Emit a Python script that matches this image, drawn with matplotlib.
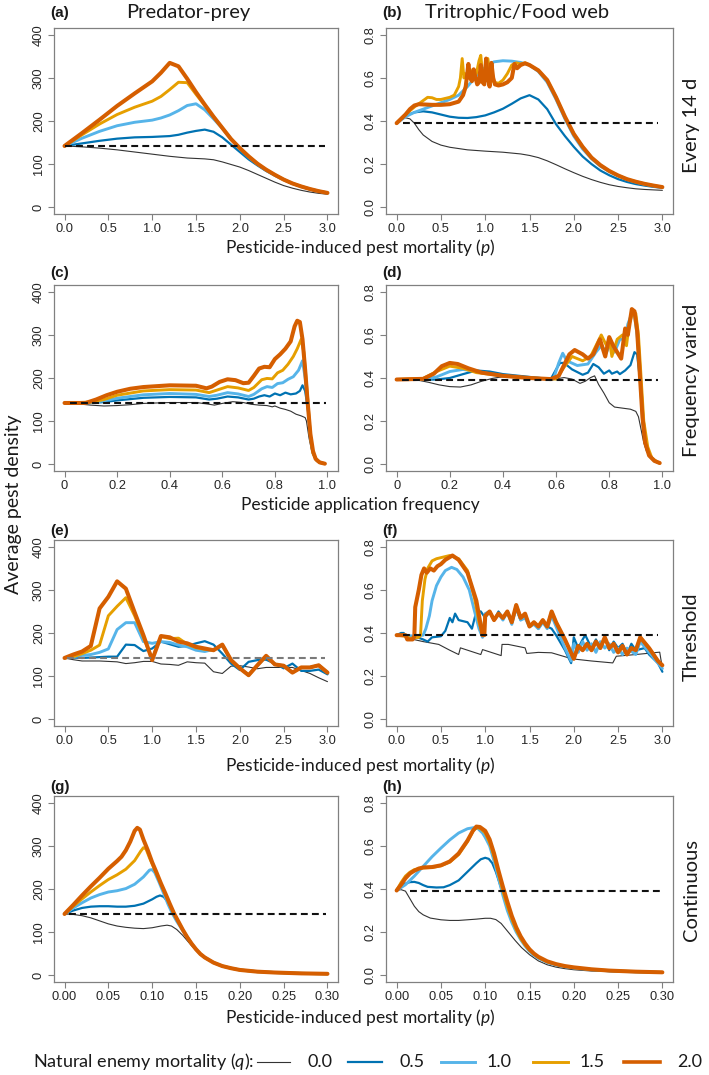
import numpy as np
import matplotlib.pyplot as plt
from matplotlib.lines import Line2D

plt.rcParams['font.family'] = ['Liberation Sans', 'DejaVu Sans']
plt.rcParams['mathtext.fontset'] = 'custom'
plt.rcParams['mathtext.it'] = 'Lato:italic'
plt.rcParams['mathtext.rm'] = 'Lato'

LABEL_FONT = ['Lato', 'DejaVu Sans']

# natural enemy mortality levels (q) and their line styles
q_levels = ['0.0', '0.5', '1.0', '1.5', '2.0']
q_colors = ['#333333', '#0072B2', '#56B4E9', '#E69F00', '#D55E00']
q_widths = [0.8, 1.6, 2.1, 2.1, 2.9]

# ---- (a) every 14 d, predator-prey : (p, density)
a_q00 = [(0, 142), (0.2, 140), (0.4, 137), (0.6, 133), (0.8, 128), (1.0, 123), (1.2, 118), (1.4, 114),
         (1.6, 112), (1.7, 110), (1.8, 105), (1.9, 99), (2.0, 93), (2.1, 85), (2.2, 76), (2.3, 67),
         (2.4, 58), (2.5, 50), (2.6, 44), (2.7, 39), (2.8, 35), (2.9, 32), (3.0, 30)]
a_q05 = [(0, 142), (0.2, 148), (0.4, 154), (0.6, 159), (0.8, 162), (1.0, 163), (1.2, 165), (1.3, 168),
         (1.4, 173), (1.5, 177), (1.6, 180), (1.7, 175), (1.8, 162), (1.9, 145), (2.0, 128), (2.1, 111),
         (2.2, 97), (2.3, 84), (2.4, 73), (2.5, 63), (2.6, 54), (2.7, 47), (2.8, 41), (2.9, 36), (3.0, 32)]
a_q10 = [(0, 142), (0.2, 160), (0.4, 176), (0.6, 189), (0.8, 197), (1.0, 202), (1.1, 207), (1.2, 214),
         (1.3, 224), (1.4, 236), (1.5, 240), (1.6, 226), (1.7, 205), (1.8, 183), (1.9, 158), (2.0, 136),
         (2.1, 116), (2.2, 100), (2.3, 86), (2.4, 74), (2.5, 64), (2.6, 55), (2.7, 48), (2.8, 42),
         (2.9, 37), (3.0, 33)]
a_q15 = [(0, 142), (0.2, 168), (0.4, 193), (0.6, 215), (0.8, 232), (1.0, 246), (1.1, 257), (1.2, 273),
         (1.3, 290), (1.4, 289), (1.5, 262), (1.6, 236), (1.7, 210), (1.8, 184), (1.9, 158), (2.0, 137),
         (2.1, 118), (2.2, 101), (2.3, 87), (2.4, 75), (2.5, 64), (2.6, 55), (2.7, 48), (2.8, 42),
         (2.9, 37), (3.0, 33)]
a_q20 = [(0, 142), (0.2, 172), (0.4, 203), (0.6, 235), (0.8, 264), (1.0, 292), (1.1, 312), (1.2, 335),
         (1.3, 327), (1.4, 298), (1.5, 267), (1.6, 238), (1.7, 210), (1.8, 184), (1.9, 158), (2.0, 137),
         (2.1, 118), (2.2, 101), (2.3, 87), (2.4, 75), (2.5, 64), (2.6, 55), (2.7, 48), (2.8, 42),
         (2.9, 37), (3.0, 33)]

# ---- (b) every 14 d, tritrophic
b_q00 = [(0, 0.39), (0.05, 0.405), (0.1, 0.415), (0.15, 0.41), (0.2, 0.39), (0.25, 0.36), (0.3, 0.335),
         (0.4, 0.305), (0.5, 0.288), (0.6, 0.278), (0.8, 0.266), (1.0, 0.26), (1.2, 0.255), (1.4, 0.247),
         (1.5, 0.24), (1.6, 0.23), (1.7, 0.215), (1.8, 0.197), (1.9, 0.178), (2.0, 0.16), (2.1, 0.143),
         (2.2, 0.128), (2.3, 0.115), (2.4, 0.104), (2.5, 0.096), (2.6, 0.09), (2.7, 0.085), (2.8, 0.082),
         (2.9, 0.08), (3.0, 0.078)]
b_q05 = [(0, 0.39), (0.1, 0.425), (0.2, 0.44), (0.3, 0.445), (0.4, 0.44), (0.5, 0.43), (0.6, 0.42),
         (0.7, 0.415), (0.8, 0.414), (0.9, 0.418), (1.0, 0.426), (1.1, 0.44), (1.2, 0.457), (1.3, 0.48),
         (1.4, 0.505), (1.5, 0.52), (1.6, 0.5), (1.7, 0.455), (1.8, 0.385), (1.9, 0.33), (2.0, 0.28),
         (2.1, 0.235), (2.2, 0.2), (2.3, 0.17), (2.4, 0.148), (2.5, 0.13), (2.6, 0.117), (2.7, 0.107),
         (2.8, 0.1), (2.9, 0.094), (3.0, 0.09)]
b_q10 = [(0, 0.39), (0.1, 0.42), (0.2, 0.44), (0.3, 0.455), (0.4, 0.47), (0.5, 0.485), (0.6, 0.5),
         (0.7, 0.52), (0.8, 0.56), (0.9, 0.61), (1.0, 0.65), (1.1, 0.675), (1.2, 0.68), (1.3, 0.678),
         (1.4, 0.672), (1.5, 0.66), (1.6, 0.63), (1.7, 0.58), (1.8, 0.5), (1.9, 0.41), (2.0, 0.33),
         (2.1, 0.27), (2.2, 0.225), (2.3, 0.19), (2.4, 0.165), (2.5, 0.145), (2.6, 0.128), (2.7, 0.116),
         (2.8, 0.106), (2.9, 0.098), (3.0, 0.092)]
b_q15 = [(0, 0.39), (0.1, 0.43), (0.2, 0.465), (0.3, 0.495), (0.35, 0.51), (0.4, 0.508), (0.45, 0.5),
         (0.5, 0.5), (0.6, 0.51), (0.65, 0.52), (0.7, 0.56), (0.72, 0.6), (0.74, 0.69), (0.76, 0.6),
         (0.78, 0.62), (0.8, 0.6), (0.83, 0.64), (0.86, 0.6), (0.9, 0.62), (0.93, 0.68), (0.95, 0.705),
         (0.97, 0.62), (1.0, 0.6), (1.03, 0.69), (1.06, 0.6), (1.1, 0.58), (1.15, 0.575), (1.2, 0.59),
         (1.25, 0.62), (1.3, 0.66), (1.35, 0.67), (1.4, 0.665), (1.45, 0.67), (1.5, 0.66), (1.6, 0.635),
         (1.7, 0.59), (1.8, 0.51), (1.9, 0.42), (2.0, 0.34), (2.1, 0.28), (2.2, 0.23), (2.3, 0.195),
         (2.4, 0.168), (2.5, 0.147), (2.6, 0.13), (2.7, 0.118), (2.8, 0.108), (2.9, 0.1), (3.0, 0.093)]
b_q20 = [(0, 0.39), (0.1, 0.43), (0.15, 0.455), (0.2, 0.472), (0.25, 0.478), (0.4, 0.475), (0.5, 0.475),
         (0.6, 0.478), (0.7, 0.49), (0.75, 0.52), (0.78, 0.56), (0.81, 0.665), (0.83, 0.6), (0.85, 0.585),
         (0.87, 0.64), (0.89, 0.6), (0.91, 0.57), (0.93, 0.58), (0.95, 0.66), (0.97, 0.58), (0.99, 0.57),
         (1.01, 0.69), (1.03, 0.6), (1.05, 0.56), (1.07, 0.67), (1.09, 0.6), (1.11, 0.57), (1.15, 0.565),
         (1.2, 0.57), (1.25, 0.58), (1.3, 0.6), (1.33, 0.665), (1.36, 0.645), (1.4, 0.66), (1.45, 0.668),
         (1.5, 0.66), (1.6, 0.635), (1.7, 0.59), (1.8, 0.51), (1.9, 0.42), (2.0, 0.34), (2.1, 0.28),
         (2.2, 0.23), (2.3, 0.195), (2.4, 0.168), (2.5, 0.147), (2.6, 0.13), (2.7, 0.118), (2.8, 0.108),
         (2.9, 0.1), (3.0, 0.093)]

# ---- (c) frequency varied, predator-prey : (frequency, density)
c_q00 = [(0, 142), (0.05, 140), (0.1, 137), (0.15, 135), (0.2, 136), (0.25, 138), (0.3, 141), (0.4, 143),
         (0.5, 143), (0.54, 140), (0.57, 137), (0.6, 141), (0.64, 145), (0.68, 143), (0.71, 139),
         (0.74, 137), (0.77, 136), (0.79, 133), (0.8, 135), (0.82, 130), (0.84, 127), (0.86, 123),
         (0.88, 116), (0.9, 112), (0.915, 108), (0.92, 100), (0.93, 60), (0.94, 30), (0.95, 15),
         (0.96, 7), (0.975, 3), (0.99, 1)]
c_q05 = [(0, 142), (0.1, 142), (0.15, 144), (0.2, 148), (0.3, 154), (0.4, 156), (0.5, 155), (0.55, 150),
         (0.58, 152), (0.62, 157), (0.66, 155), (0.7, 150), (0.72, 152), (0.74, 157), (0.76, 160),
         (0.78, 157), (0.8, 164), (0.82, 160), (0.84, 166), (0.86, 162), (0.88, 164), (0.895, 170),
         (0.905, 183), (0.915, 170), (0.925, 130), (0.935, 60), (0.945, 25), (0.96, 8), (0.975, 3),
         (0.99, 1)]
c_q10 = [(0, 142), (0.1, 143), (0.15, 147), (0.2, 153), (0.3, 161), (0.4, 164), (0.5, 162), (0.55, 157),
         (0.58, 160), (0.62, 166), (0.66, 163), (0.7, 157), (0.72, 162), (0.75, 175), (0.77, 180),
         (0.79, 178), (0.81, 187), (0.83, 189), (0.85, 197), (0.87, 203), (0.89, 218), (0.905, 240),
         (0.915, 200), (0.925, 140), (0.935, 65), (0.945, 25), (0.96, 8), (0.975, 3), (0.99, 1)]
c_q15 = [(0, 142), (0.1, 144), (0.15, 150), (0.2, 160), (0.3, 170), (0.4, 173), (0.5, 172), (0.55, 166),
         (0.58, 172), (0.62, 180), (0.66, 177), (0.7, 171), (0.72, 178), (0.75, 196), (0.77, 199),
         (0.79, 198), (0.81, 212), (0.83, 218), (0.85, 232), (0.87, 250), (0.885, 268), (0.9, 290),
         (0.91, 260), (0.925, 150), (0.935, 65), (0.945, 25), (0.96, 8), (0.975, 3), (0.99, 1)]
c_q20 = [(0, 142), (0.08, 142), (0.12, 150), (0.16, 160), (0.2, 168), (0.25, 175), (0.3, 179), (0.4, 183),
         (0.5, 182), (0.54, 176), (0.56, 180), (0.59, 191), (0.62, 197), (0.65, 195), (0.68, 188),
         (0.7, 189), (0.72, 205), (0.74, 222), (0.76, 226), (0.78, 225), (0.8, 244), (0.82, 255),
         (0.84, 268), (0.86, 285), (0.875, 320), (0.885, 333), (0.895, 330), (0.905, 290), (0.915, 220),
         (0.925, 140), (0.935, 70), (0.945, 30), (0.955, 12), (0.97, 4), (0.99, 1)]

# ---- (d) frequency varied, tritrophic
d_q00 = [(0, 0.393), (0.08, 0.39), (0.12, 0.38), (0.16, 0.368), (0.2, 0.36), (0.24, 0.358), (0.28, 0.368),
         (0.32, 0.385), (0.36, 0.398), (0.4, 0.406), (0.45, 0.41), (0.5, 0.405), (0.55, 0.398),
         (0.6, 0.396), (0.63, 0.402), (0.66, 0.395), (0.69, 0.375), (0.71, 0.385), (0.73, 0.402),
         (0.745, 0.41), (0.76, 0.37), (0.78, 0.33), (0.8, 0.285), (0.82, 0.265), (0.85, 0.26),
         (0.88, 0.255), (0.9, 0.245), (0.91, 0.22), (0.92, 0.16), (0.93, 0.1), (0.94, 0.06),
         (0.96, 0.025), (0.98, 0.01), (0.99, 0.005)]
d_q05 = [(0, 0.393), (0.1, 0.392), (0.15, 0.393), (0.2, 0.4), (0.25, 0.418), (0.3, 0.435), (0.35, 0.43),
         (0.4, 0.418), (0.5, 0.405), (0.58, 0.395), (0.6, 0.44), (0.615, 0.47), (0.63, 0.47), (0.66, 0.44),
         (0.7, 0.415), (0.72, 0.425), (0.74, 0.465), (0.76, 0.45), (0.78, 0.42), (0.8, 0.435), (0.81, 0.42),
         (0.83, 0.43), (0.84, 0.418), (0.86, 0.435), (0.88, 0.46), (0.895, 0.52), (0.905, 0.51),
         (0.915, 0.4), (0.925, 0.2), (0.935, 0.1), (0.95, 0.04), (0.97, 0.015), (0.99, 0.005)]
d_q10 = [(0, 0.393), (0.1, 0.393), (0.15, 0.405), (0.2, 0.43), (0.25, 0.44), (0.3, 0.43), (0.35, 0.42),
         (0.4, 0.41), (0.5, 0.4), (0.59, 0.395), (0.61, 0.47), (0.625, 0.515), (0.64, 0.48), (0.68, 0.458),
         (0.72, 0.465), (0.75, 0.52), (0.77, 0.55), (0.79, 0.52), (0.8, 0.55), (0.82, 0.52), (0.84, 0.58),
         (0.86, 0.58), (0.87, 0.65), (0.885, 0.7), (0.895, 0.69), (0.905, 0.6), (0.915, 0.45),
         (0.925, 0.25), (0.935, 0.12), (0.95, 0.04), (0.97, 0.015), (0.99, 0.005)]
d_q15 = [(0, 0.393), (0.1, 0.398), (0.15, 0.43), (0.2, 0.455), (0.25, 0.445), (0.3, 0.425), (0.4, 0.41),
         (0.5, 0.4), (0.6, 0.395), (0.63, 0.45), (0.66, 0.5), (0.7, 0.48), (0.73, 0.5), (0.77, 0.6),
         (0.79, 0.55), (0.8, 0.58), (0.81, 0.5), (0.83, 0.58), (0.85, 0.6), (0.865, 0.55), (0.875, 0.65),
         (0.89, 0.71), (0.9, 0.7), (0.91, 0.6), (0.92, 0.4), (0.93, 0.2), (0.945, 0.08), (0.96, 0.03),
         (0.98, 0.01), (0.99, 0.005)]
d_q20 = [(0, 0.393), (0.1, 0.396), (0.14, 0.42), (0.17, 0.455), (0.2, 0.47), (0.23, 0.465), (0.27, 0.445),
         (0.32, 0.425), (0.4, 0.41), (0.5, 0.4), (0.58, 0.395), (0.61, 0.41), (0.63, 0.46), (0.65, 0.51),
         (0.67, 0.53), (0.7, 0.51), (0.72, 0.49), (0.74, 0.51), (0.765, 0.58), (0.785, 0.5), (0.8, 0.59),
         (0.815, 0.55), (0.83, 0.52), (0.845, 0.49), (0.86, 0.63), (0.87, 0.6), (0.885, 0.72),
         (0.895, 0.71), (0.905, 0.62), (0.915, 0.42), (0.925, 0.22), (0.935, 0.1), (0.95, 0.04),
         (0.97, 0.015), (0.99, 0.005)]

# ---- (e) threshold, predator-prey (p steps of 0.1)
e_p = [0.0, 0.1, 0.2, 0.3, 0.4, 0.5, 0.6, 0.7, 0.8, 0.9, 1.0, 1.1, 1.2, 1.3, 1.4, 1.5,
       1.6, 1.7, 1.8, 1.9, 2.0, 2.1, 2.2, 2.3, 2.4, 2.5, 2.6, 2.7, 2.8, 2.9, 3.0]
e_q00 = [142, 138, 135, 135, 135, 134, 133, 129, 131, 134, 134, 128, 127, 125, 133, 131,
         130, 110, 106, 123, 124, 121, 117, 120, 120, 120, 120, 113, 106, 96, 87]
e_q05 = [142, 143, 142, 143, 144, 145, 145, 173, 172, 158, 164, 180, 174, 168, 170, 176,
         181, 173, 152, 129, 114, 133, 137, 138, 129, 118, 129, 112, 112, 115, 104]
e_q10 = [142, 145, 148, 150, 155, 163, 208, 224, 224, 180, 176, 180, 178, 172, 168, 160,
         157, 162, 170, 137, 118, 102, 125, 145, 127, 124, 108, 120, 120, 125, 108]
e_q15 = [142, 145, 152, 160, 172, 240, 262, 282, 240, 190, 140, 192, 187, 188, 174, 166,
         162, 160, 173, 137, 118, 102, 125, 147, 127, 124, 108, 120, 120, 125, 108]
e_q20 = [142, 150, 157, 170, 257, 284, 320, 303, 248, 195, 137, 193, 190, 180, 176, 168,
         164, 160, 173, 137, 118, 102, 125, 147, 127, 124, 108, 120, 120, 125, 108]

# ---- (f) threshold, tritrophic
f_q00 = [(0, 0.39), (0.1, 0.386), (0.19, 0.37), (0.3, 0.36), (0.475, 0.347), (0.6, 0.32), (0.7, 0.3),
         (0.72, 0.331), (0.95, 0.3), (0.97, 0.323), (1.18, 0.295), (1.19, 0.347), (1.26, 0.347),
         (1.45, 0.331), (1.47, 0.305), (1.6, 0.31), (1.75, 0.308), (1.98, 0.28), (2.2, 0.27),
         (2.44, 0.261), (2.48, 0.292), (2.7, 0.3), (2.97, 0.311), (2.99, 0.261)]
f_q05 = [(0, 0.39), (0.05, 0.4), (0.08, 0.4), (0.1, 0.385), (0.2, 0.385), (0.3, 0.37), (0.35, 0.36),
         (0.4, 0.38), (0.5, 0.385), (0.55, 0.41), (0.6, 0.47), (0.63, 0.45), (0.66, 0.49), (0.7, 0.46),
         (0.8, 0.45), (0.85, 0.42), (0.9, 0.5), (0.95, 0.5), (1.0, 0.47), (1.05, 0.5), (1.1, 0.46),
         (1.15, 0.5), (1.2, 0.47), (1.25, 0.49), (1.3, 0.45), (1.35, 0.51), (1.4, 0.46), (1.45, 0.48),
         (1.5, 0.43), (1.55, 0.45), (1.6, 0.42), (1.65, 0.45), (1.7, 0.43), (1.75, 0.42), (1.8, 0.39),
         (1.9, 0.32), (1.97, 0.26), (2.0, 0.38), (2.05, 0.33), (2.1, 0.37), (2.13, 0.39), (2.2, 0.33),
         (2.25, 0.37), (2.3, 0.33), (2.35, 0.38), (2.4, 0.32), (2.45, 0.36), (2.5, 0.33), (2.55, 0.35),
         (2.6, 0.3), (2.65, 0.35), (2.7, 0.32), (2.8, 0.33), (2.85, 0.3), (2.95, 0.26), (3.0, 0.22)]
f_q10 = [(0, 0.39), (0.1, 0.39), (0.2, 0.385), (0.3, 0.39), (0.33, 0.42), (0.37, 0.48), (0.4, 0.55),
         (0.45, 0.62), (0.5, 0.66), (0.55, 0.69), (0.62, 0.705), (0.68, 0.695), (0.75, 0.66), (0.82, 0.6),
         (0.88, 0.5), (0.93, 0.42), (0.97, 0.38), (1.0, 0.49), (1.05, 0.5), (1.1, 0.46), (1.15, 0.49),
         (1.2, 0.46), (1.25, 0.5), (1.3, 0.44), (1.35, 0.52), (1.4, 0.46), (1.45, 0.47), (1.5, 0.43),
         (1.55, 0.44), (1.6, 0.42), (1.65, 0.45), (1.7, 0.42), (1.75, 0.48), (1.8, 0.43), (1.9, 0.33),
         (1.97, 0.27), (2.0, 0.35), (2.05, 0.31), (2.1, 0.36), (2.15, 0.32), (2.2, 0.35), (2.25, 0.31),
         (2.3, 0.36), (2.35, 0.33), (2.4, 0.35), (2.45, 0.31), (2.5, 0.33), (2.55, 0.3), (2.6, 0.33),
         (2.7, 0.3), (2.75, 0.36), (2.85, 0.31), (2.95, 0.26), (3.0, 0.235)]
f_q15 = [(0, 0.39), (0.1, 0.385), (0.15, 0.375), (0.25, 0.38), (0.27, 0.39), (0.29, 0.55), (0.32, 0.65),
         (0.35, 0.7), (0.4, 0.735), (0.45, 0.745), (0.5, 0.75), (0.6, 0.76), (0.7, 0.745), (0.8, 0.69),
         (0.88, 0.56), (0.93, 0.45), (0.97, 0.39), (1.0, 0.48), (1.05, 0.5), (1.1, 0.46), (1.15, 0.49),
         (1.2, 0.47), (1.25, 0.5), (1.3, 0.45), (1.35, 0.53), (1.4, 0.47), (1.45, 0.49), (1.5, 0.43),
         (1.55, 0.45), (1.6, 0.43), (1.65, 0.46), (1.7, 0.43), (1.75, 0.5), (1.8, 0.45), (1.9, 0.37),
         (2.0, 0.28), (2.05, 0.34), (2.1, 0.32), (2.15, 0.35), (2.2, 0.32), (2.25, 0.36), (2.3, 0.33),
         (2.35, 0.38), (2.4, 0.33), (2.45, 0.35), (2.5, 0.31), (2.55, 0.34), (2.6, 0.3), (2.65, 0.33),
         (2.7, 0.32), (2.75, 0.38), (2.85, 0.33), (2.95, 0.27), (3.0, 0.25)]
f_q20 = [(0, 0.39), (0.1, 0.39), (0.12, 0.37), (0.18, 0.37), (0.2, 0.385), (0.21, 0.52), (0.25, 0.6),
         (0.28, 0.67), (0.31, 0.7), (0.34, 0.68), (0.38, 0.7), (0.42, 0.69), (0.46, 0.71), (0.5, 0.72),
         (0.55, 0.74), (0.63, 0.76), (0.7, 0.74), (0.8, 0.68), (0.9, 0.55), (0.97, 0.39), (0.99, 0.39),
         (1.0, 0.48), (1.05, 0.5), (1.1, 0.46), (1.15, 0.49), (1.2, 0.47), (1.25, 0.5), (1.3, 0.45),
         (1.35, 0.53), (1.4, 0.47), (1.45, 0.49), (1.5, 0.43), (1.55, 0.45), (1.6, 0.43), (1.65, 0.46),
         (1.7, 0.43), (1.75, 0.5), (1.8, 0.45), (1.9, 0.37), (2.0, 0.28), (2.05, 0.34), (2.1, 0.32),
         (2.15, 0.35), (2.2, 0.32), (2.25, 0.36), (2.3, 0.33), (2.35, 0.38), (2.4, 0.33), (2.45, 0.35),
         (2.5, 0.31), (2.55, 0.34), (2.6, 0.3), (2.65, 0.33), (2.7, 0.32), (2.75, 0.38), (2.85, 0.33),
         (2.95, 0.27), (3.0, 0.25)]

# ---- (g) continuous, predator-prey
g_q00 = [(0, 142), (0.01, 141), (0.02, 138), (0.03, 133), (0.04, 126), (0.05, 119), (0.06, 114),
         (0.07, 111), (0.08, 109), (0.09, 108), (0.1, 110), (0.11, 114), (0.117, 116), (0.122, 114),
         (0.128, 106), (0.135, 92), (0.14, 80), (0.145, 68), (0.15, 57), (0.155, 47), (0.16, 39),
         (0.17, 28), (0.18, 20), (0.19, 15), (0.2, 11), (0.22, 7), (0.24, 5), (0.27, 4), (0.3, 3)]
g_q05 = [(0, 142), (0.01, 150), (0.02, 156), (0.03, 159), (0.04, 160), (0.05, 160), (0.06, 159),
         (0.07, 159), (0.08, 161), (0.09, 166), (0.1, 176), (0.105, 182), (0.109, 185), (0.113, 182),
         (0.118, 170), (0.123, 150), (0.128, 128), (0.135, 105), (0.14, 88), (0.145, 72), (0.15, 60),
         (0.155, 49), (0.16, 41), (0.17, 29), (0.18, 21), (0.19, 16), (0.2, 12), (0.22, 8), (0.24, 6),
         (0.27, 4), (0.3, 3)]
g_q10 = [(0, 142), (0.01, 156), (0.02, 168), (0.03, 179), (0.04, 187), (0.05, 193), (0.06, 196),
         (0.07, 201), (0.08, 211), (0.09, 228), (0.097, 244), (0.1, 245), (0.103, 238), (0.108, 215),
         (0.113, 190), (0.118, 165), (0.123, 143), (0.128, 125), (0.135, 103), (0.14, 88), (0.145, 73),
         (0.15, 60), (0.155, 49), (0.16, 41), (0.17, 29), (0.18, 21), (0.19, 16), (0.2, 12), (0.22, 8),
         (0.24, 6), (0.27, 4), (0.3, 3)]
g_q15 = [(0, 142), (0.01, 160), (0.02, 177), (0.03, 193), (0.04, 208), (0.05, 222), (0.06, 233),
         (0.07, 246), (0.08, 266), (0.087, 288), (0.09, 296), (0.093, 293), (0.097, 272), (0.1, 258),
         (0.105, 235), (0.11, 212), (0.115, 188), (0.12, 164), (0.125, 143), (0.13, 124), (0.135, 105),
         (0.14, 88), (0.145, 73), (0.15, 60), (0.155, 49), (0.16, 41), (0.17, 29), (0.18, 21), (0.19, 16),
         (0.2, 12), (0.22, 8), (0.24, 6), (0.27, 4), (0.3, 3)]
g_q20 = [(0, 142), (0.01, 163), (0.02, 185), (0.03, 206), (0.04, 226), (0.05, 247), (0.06, 265),
         (0.065, 275), (0.07, 290), (0.075, 310), (0.08, 335), (0.083, 342), (0.086, 338), (0.09, 315),
         (0.095, 290), (0.1, 262), (0.105, 238), (0.11, 213), (0.115, 190), (0.12, 166), (0.125, 143),
         (0.13, 124), (0.135, 105), (0.14, 88), (0.145, 73), (0.15, 60), (0.155, 49), (0.16, 41),
         (0.17, 29), (0.18, 21), (0.19, 16), (0.2, 12), (0.22, 8), (0.24, 6), (0.27, 4), (0.3, 3)]

# ---- (h) continuous, tritrophic
h_q00 = [(0, 0.393), (0.005, 0.397), (0.01, 0.39), (0.015, 0.355), (0.02, 0.32), (0.025, 0.295),
         (0.03, 0.28), (0.038, 0.265), (0.05, 0.257), (0.06, 0.254), (0.07, 0.254), (0.08, 0.257),
         (0.09, 0.26), (0.1, 0.264), (0.106, 0.264), (0.112, 0.258), (0.118, 0.24), (0.126, 0.2),
         (0.134, 0.16), (0.141, 0.128), (0.15, 0.095), (0.16, 0.066), (0.17, 0.048), (0.18, 0.037),
         (0.19, 0.03), (0.2, 0.025), (0.22, 0.019), (0.25, 0.015), (0.3, 0.012)]
h_q05 = [(0, 0.393), (0.005, 0.41), (0.01, 0.425), (0.015, 0.432), (0.02, 0.433), (0.025, 0.428),
         (0.03, 0.418), (0.035, 0.41), (0.045, 0.407), (0.053, 0.408), (0.06, 0.418), (0.07, 0.44),
         (0.08, 0.48), (0.09, 0.52), (0.095, 0.538), (0.1, 0.545), (0.104, 0.54), (0.108, 0.52),
         (0.112, 0.48), (0.116, 0.43), (0.12, 0.38), (0.125, 0.31), (0.13, 0.26), (0.135, 0.215),
         (0.14, 0.175), (0.145, 0.14), (0.15, 0.115), (0.155, 0.095), (0.16, 0.08), (0.17, 0.06),
         (0.18, 0.047), (0.19, 0.038), (0.2, 0.032), (0.22, 0.024), (0.24, 0.019), (0.27, 0.015),
         (0.3, 0.012)]
h_q10 = [(0, 0.393), (0.01, 0.42), (0.02, 0.46), (0.03, 0.505), (0.04, 0.55), (0.05, 0.59),
         (0.06, 0.628), (0.07, 0.66), (0.08, 0.68), (0.087, 0.685), (0.092, 0.68), (0.097, 0.66),
         (0.1, 0.64), (0.105, 0.6), (0.11, 0.53), (0.115, 0.45), (0.12, 0.37), (0.125, 0.3), (0.13, 0.245),
         (0.135, 0.2), (0.14, 0.165), (0.145, 0.135), (0.15, 0.11), (0.155, 0.092), (0.16, 0.078),
         (0.17, 0.059), (0.18, 0.047), (0.19, 0.039), (0.2, 0.033), (0.22, 0.025), (0.24, 0.02),
         (0.27, 0.015), (0.3, 0.012)]
h_q15 = [(0, 0.393), (0.005, 0.43), (0.01, 0.46), (0.015, 0.478), (0.02, 0.49), (0.03, 0.498),
         (0.04, 0.5), (0.05, 0.508), (0.06, 0.525), (0.07, 0.56), (0.08, 0.62), (0.087, 0.675),
         (0.091, 0.685), (0.095, 0.68), (0.1, 0.66), (0.105, 0.615), (0.11, 0.55), (0.115, 0.47),
         (0.12, 0.39), (0.125, 0.32), (0.13, 0.26), (0.135, 0.21), (0.14, 0.17), (0.145, 0.14),
         (0.15, 0.115), (0.155, 0.097), (0.16, 0.082), (0.17, 0.062), (0.18, 0.05), (0.19, 0.041),
         (0.2, 0.035), (0.22, 0.026), (0.24, 0.021), (0.27, 0.016), (0.3, 0.013)]
h_q20 = [(0, 0.393), (0.005, 0.42), (0.01, 0.45), (0.015, 0.472), (0.02, 0.485), (0.025, 0.495),
         (0.03, 0.5), (0.04, 0.502), (0.05, 0.51), (0.06, 0.528), (0.07, 0.565), (0.08, 0.625),
         (0.086, 0.67), (0.09, 0.69), (0.094, 0.688), (0.1, 0.67), (0.105, 0.63), (0.11, 0.565),
         (0.115, 0.485), (0.12, 0.41), (0.125, 0.34), (0.13, 0.275), (0.135, 0.222), (0.14, 0.18),
         (0.145, 0.147), (0.15, 0.12), (0.155, 0.1), (0.16, 0.085), (0.17, 0.064), (0.18, 0.051),
         (0.19, 0.042), (0.2, 0.036), (0.22, 0.027), (0.24, 0.021), (0.27, 0.016), (0.3, 0.013)]

# no-pesticide reference densities (dashed lines) and their p-extent
base_pp = 142
base_tt = 0.393
base_span = {'a': (0, 2.97), 'b': (0.07, 2.95), 'c': (0.02, 0.995), 'd': (0.02, 0.985),
             'e': (0.03, 2.97), 'f': (0.07, 2.95), 'g': (0.005, 0.298), 'h': (0.015, 0.297)}

row_names = ['Every 14 d', 'Frequency varied', 'Threshold', 'Continuous']
col_names = ['Predator-prey', 'Tritrophic/Food web']
xlabels = ['Pesticide-induced pest mortality ($p$)', 'Pesticide application frequency',
           'Pesticide-induced pest mortality ($p$)', 'Pesticide-induced pest mortality ($p$)']

x_p3 = ([0, 0.5, 1.0, 1.5, 2.0, 2.5, 3.0], ['0.0', '0.5', '1.0', '1.5', '2.0', '2.5', '3.0'])
x_freq = ([0, 0.2, 0.4, 0.6, 0.8, 1.0], ['0', '0.2', '0.4', '0.6', '0.8', '1.0'])
x_p03 = ([0, 0.05, 0.1, 0.15, 0.2, 0.25, 0.3], ['0.00', '0.05', '0.10', '0.15', '0.20', '0.25', '0.30'])
y_pp = ([0, 100, 200, 300, 400], ['0', '100', '200', '300', '400'])
y_tt = ([0, 0.2, 0.4, 0.6, 0.8], ['0.0', '0.2', '0.4', '0.6', '0.8'])


def xy(points):
    arr = np.array(points, dtype=float)
    return arr[:, 0], arr[:, 1]


panels = {
    'a': [xy(s) for s in (a_q00, a_q05, a_q10, a_q15, a_q20)],
    'b': [xy(s) for s in (b_q00, b_q05, b_q10, b_q15, b_q20)],
    'c': [xy(s) for s in (c_q00, c_q05, c_q10, c_q15, c_q20)],
    'd': [xy(s) for s in (d_q00, d_q05, d_q10, d_q15, d_q20)],
    'e': [(np.array(e_p), np.array(s, dtype=float)) for s in (e_q00, e_q05, e_q10, e_q15, e_q20)],
    'f': [xy(s) for s in (f_q00, f_q05, f_q10, f_q15, f_q20)],
    'g': [xy(s) for s in (g_q00, g_q05, g_q10, g_q15, g_q20)],
    'h': [xy(s) for s in (h_q00, h_q05, h_q10, h_q15, h_q20)],
}
row_xaxis = [x_p3, x_freq, x_p3, x_p03]

W, H = 709, 1075
fig = plt.figure(figsize=(W / 100, H / 100), dpi=100)


def fx(px):
    return px / W


def fy(py):
    return 1 - py / H


col_left = [54, 386]
col_width = [284, 287]
row_top = [28, 285, 540, 796]
ax_h = 186
letter_y = [13.5, 273, 531, 787]
xlabel_y = [247, 505, 765, 1018]
rowname_y = [125, 380, 637, 890]

letters = ['a', 'b', 'c', 'd', 'e', 'f', 'g', 'h']
for r in range(4):
    for c in range(2):
        key = letters[r * 2 + c]
        ax = fig.add_axes([fx(col_left[c]), fy(row_top[r] + ax_h), col_width[c] / W, ax_h / H])
        for (px, py), col, lw in zip(panels[key], q_colors, q_widths):
            ax.plot(px, py, color=col, lw=lw, solid_joinstyle='round', solid_capstyle='round')
        base = base_pp if c == 0 else base_tt
        dash_col = '#7a7a7a' if key == 'e' else '#111111'
        ax.plot(base_span[key], [base, base], color=dash_col, lw=1.5, dashes=(3.3, 2.0))

        ticks, labels = row_xaxis[r]
        span = ticks[-1] - ticks[0]
        ax.set_xlim(ticks[0] - 0.04 * span, ticks[-1] + 0.04 * span)
        ax.set_xticks(ticks)
        ax.set_xticklabels(labels)
        yt, yl = y_pp if c == 0 else y_tt
        ax.set_ylim(yt[0] - 0.04 * yt[-1], yt[-1] * 1.04)
        ax.set_yticks(yt)
        ax.set_yticklabels(yl, rotation=90, va='center')
        for sp in ax.spines.values():
            sp.set_color('#808080')
            sp.set_linewidth(0.9)
        ax.tick_params(direction='out', length=4, width=0.8, color='#808080',
                       labelsize=9.3, labelcolor='#262626', pad=2.5)

        fig.text(fx(col_left[c] - 4), fy(letter_y[r]), '(%s)' % key,
                 fontsize=11, fontweight='bold', ha='left', va='center', color='#1a1a1a')

    fig.text(fx(360), fy(xlabel_y[r]), xlabels[r], family=LABEL_FONT,
             fontsize=12.5, ha='center', va='center', color='#1a1a1a')
    fig.text(fx(691), fy(rowname_y[r]), row_names[r], family=LABEL_FONT,
             fontsize=14.5, rotation=90, ha='center', va='center', color='#1a1a1a')

fig.text(fx(188), fy(12.5), col_names[0], family=LABEL_FONT, fontsize=14.5,
         ha='center', va='center', color='#1a1a1a')
fig.text(fx(517), fy(12.5), col_names[1], family=LABEL_FONT, fontsize=14.5,
         ha='center', va='center', color='#1a1a1a')
fig.text(fx(14), fy(504), 'Average pest density', family=LABEL_FONT, fontsize=14,
         rotation=90, ha='center', va='center', color='#1a1a1a')

# legend row at the bottom: swatch then value for each q
leg_y = 1062
leg_line_x = [(257, 290), (348, 382), (441, 475), (533, 568), (624, 660)]
leg_text_x = [308, 400, 487, 580, 677]
fig.text(fx(254), fy(leg_y), 'Natural enemy mortality ($q$):', family=LABEL_FONT,
         fontsize=13, ha='right', va='center', color='#1a1a1a')
for (x0, x1), tx, lab, col, lw in zip(leg_line_x, leg_text_x, q_levels, q_colors, q_widths):
    fig.add_artist(Line2D([fx(x0), fx(x1)], [fy(leg_y), fy(leg_y)], transform=fig.transFigure,
                          color=col, lw=min(lw, 2.6)))
    fig.text(fx(tx), fy(leg_y), lab, family=LABEL_FONT, fontsize=13,
             ha='left', va='center', color='#1a1a1a')

fig.savefig('out.png', dpi=100)
